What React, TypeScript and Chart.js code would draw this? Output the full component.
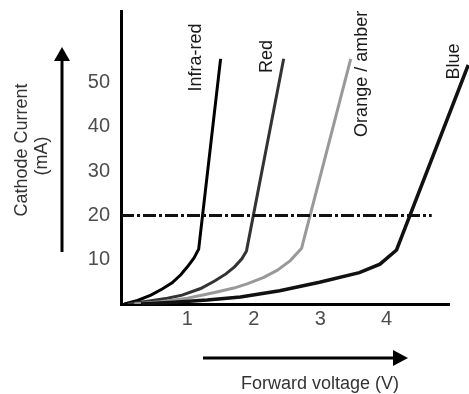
import React, { useEffect, useRef } from "react";
import { Chart, registerables } from "chart.js";

Chart.register(...registerables);

// ---- data ----
const xTicks = [1, 2, 3, 4];
const yTicks = [10, 20, 30, 40, 50];

const seriesNames = ["Infra-red", "Red", "Orange / amber", "Blue"];

const infraRedV = [0.05, 0.25, 0.45, 0.62, 0.77, 0.9, 1.0, 1.1, 1.17, 1.5];
const infraRedI = [0, 0.8, 2.0, 3.4, 4.8, 6.6, 8.4, 10.4, 12.4, 55.4];

const redV = [0.1, 0.4, 0.7, 0.92, 1.2, 1.41, 1.58, 1.71, 1.82, 1.89, 2.45];
const redI = [0, 0.6, 1.3, 2.0, 3.5, 5.2, 6.8, 8.4, 10.2, 12.0, 55.4];

const orangeV = [0.2, 0.6, 1.0, 1.41, 1.7, 1.91, 2.15, 2.35, 2.55, 2.72, 3.46];
const orangeI = [0, 0.5, 1.3, 2.6, 3.6, 4.6, 6.0, 7.6, 9.8, 12.6, 55.4];

const blueV = [0.3, 0.8, 1.3, 1.8, 2.39, 2.99, 3.59, 3.9, 4.15, 5.23];
const blueI = [0, 0.4, 0.9, 1.6, 3.0, 4.9, 7.1, 9.0, 12.2, 54.0];

const thresholdV = [0, 4.68];
const thresholdI = [20, 20];

// curve label anchor (data coordinates)
const labelV = [1.125, 2.194, 3.625, 5.01];
const labelI = [55.7, 55.9, 52.0, 54.8];

const yTitle = ["Cathode Current", "(mA)"];
const xTitle = "Forward voltage (V)";

const xMax = 4.94;
const yMax = 66.2;

const FONT = "'Liberation Sans', Arial, sans-serif";

const toPts = (xs: number[], ys: number[]) => xs.map((x, i) => ({ x, y: ys[i] }));

const decorPlugin = {
  id: "decor",
  afterDraw(chart: any) {
    const ctx = chart.ctx as CanvasRenderingContext2D;
    const xs = chart.scales.x;
    const ys = chart.scales.y;
    ctx.save();
    // curve labels
    ctx.font = `18px ${FONT}`;
    ctx.fillStyle = "#1a1a1a";
    ctx.textAlign = "center";
    ctx.textBaseline = "middle";
    seriesNames.forEach((name, i) => {
      const px = xs.getPixelForValue(labelV[i]);
      const py = ys.getPixelForValue(labelI[i]);
      ctx.save();
      ctx.translate(px, py);
      ctx.rotate(-Math.PI / 2);
      ctx.fillText(name, 0, 0);
      ctx.restore();
    });
    // y title
    ctx.fillStyle = "#333";
    ctx.save();
    ctx.translate(22, 150);
    ctx.rotate(-Math.PI / 2);
    ctx.fillText(yTitle[0], 0, 0);
    ctx.restore();
    ctx.save();
    ctx.translate(42, 156);
    ctx.rotate(-Math.PI / 2);
    ctx.fillText(yTitle[1], 0, 0);
    ctx.restore();
    // x title
    ctx.fillText(xTitle, 320, 384);

    // arrows
    ctx.strokeStyle = "#000";
    ctx.fillStyle = "#000";
    ctx.lineWidth = 3;
    ctx.beginPath();
    ctx.moveTo(62, 252);
    ctx.lineTo(62, 58);
    ctx.stroke();
    ctx.beginPath();
    ctx.moveTo(62, 47);
    ctx.lineTo(54, 61);
    ctx.lineTo(70, 61);
    ctx.closePath();
    ctx.fill();

    ctx.beginPath();
    ctx.moveTo(203, 358);
    ctx.lineTo(396, 358);
    ctx.stroke();
    ctx.beginPath();
    ctx.moveTo(408, 358);
    ctx.lineTo(393, 350);
    ctx.lineTo(393, 366);
    ctx.closePath();
    ctx.fill();
    ctx.restore();
  },
};

export default function App() {
  const ref = useRef<HTMLCanvasElement>(null);
  useEffect(() => {
    if (!ref.current) return;
    const lineBase = {
      pointRadius: 0,
      pointHoverRadius: 0,
      tension: 0,
      fill: false,
    };
    const chart = new Chart(ref.current, {
      type: "line",
      data: {
        datasets: [
          {
            ...lineBase,
            label: "20 mA",
            data: toPts(thresholdV, thresholdI),
            borderColor: "#111",
            borderWidth: 3,
            borderDash: [13, 3, 3, 3],
          },
          {
            ...lineBase,
            label: seriesNames[3],
            data: toPts(blueV, blueI),
            borderColor: "#111",
            borderWidth: 3.5,
            clip: false,
          },
          {
            ...lineBase,
            label: seriesNames[2],
            data: toPts(orangeV, orangeI),
            borderColor: "#999",
            borderWidth: 3,
          },
          {
            ...lineBase,
            label: seriesNames[1],
            data: toPts(redV, redI),
            borderColor: "#333",
            borderWidth: 3,
          },
          {
            ...lineBase,
            label: seriesNames[0],
            data: toPts(infraRedV, infraRedI),
            borderColor: "#000",
            borderWidth: 3,
          },
        ],
      } as any,
      options: {
        animation: false,
        responsive: false,
        devicePixelRatio: 1,
        layout: { padding: { top: 11, right: 20, left: 0, bottom: 0 } },
        plugins: {
          legend: { display: false },
          tooltip: { enabled: false },
        },
        scales: {
          x: {
            type: "linear",
            min: 0,
            max: xMax,
            grid: { display: false, drawTicks: false, tickLength: 0 },
            border: { display: true, color: "#000", width: 3 },
            afterBuildTicks: (s: any) => {
              s.ticks = xTicks.map((v) => ({ value: v }));
            },
            afterFit: (s: any) => {
              s.height = 90;
              s.paddingLeft = 0;
              s.paddingRight = 0;
            },
            ticks: {
              padding: 3,
              color: "#4d4d4d",
              font: { family: FONT, size: 20 },
              callback: (v: any) => String(v),
            },
          },
          y: {
            type: "linear",
            min: 0,
            max: yMax,
            grid: { display: false, drawTicks: false, tickLength: 0 },
            border: { display: true, color: "#000", width: 3 },
            afterBuildTicks: (s: any) => {
              s.ticks = yTicks.map((v) => ({ value: v }));
            },
            afterFit: (s: any) => {
              s.width = 121;
              s.paddingTop = 0;
              s.paddingBottom = 0;
            },
            ticks: {
              padding: 11,
              color: "#4d4d4d",
              font: { family: FONT, size: 20 },
              callback: (v: any) => String(v),
            },
          },
        },
      } as any,
      plugins: [decorPlugin],
    });
    return () => chart.destroy();
  }, []);
  return (
    <div
      style={{
        position: "fixed",
        left: 0,
        top: 0,
        width: 469,
        height: 394,
        background: "#fff",
      }}
    >
      <canvas ref={ref} width={469} height={394} style={{ display: "block" }} />
    </div>
  );
}
